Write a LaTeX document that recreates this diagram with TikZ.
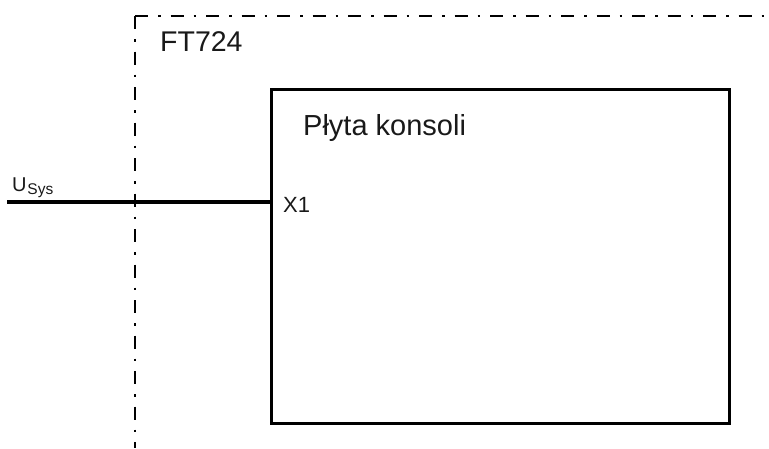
\documentclass[tikz,border=0pt]{standalone}
\usepackage{fontspec}
\setmainfont{Liberation Sans}
\begin{document}
\begin{tikzpicture}[x=1pt,y=-1pt,
  frameline/.style={line width=2.8pt, dash pattern=on 13pt off 10pt on 2.5pt off 10pt},
  boxline/.style={line width=3pt},
  wire/.style={line width=3.4pt},
  lbl/.style={anchor=base west, inner sep=0pt, text=black!90}
]
\useasboundingbox (0,0) rectangle (769,448);
% housing outline (dash-dot)
\coordinate (corner) at (135,16);
\coordinate (frameR) at (769,16);
\coordinate (frameB) at (135,448);
\draw[frameline] (corner) -- (frameR);
\draw[frameline] (corner) -- (frameB);
\node[lbl, font=\fontsize{28.5}{32}\selectfont] (ft) at (160,51) {FT724};
% console board
\draw[boxline] (271,89) rectangle (729,423);
\coordinate (boardL) at (271,202);
\node[lbl, font=\fontsize{29}{33}\selectfont] (board) at (303,135) {Płyta konsoli};
\node[lbl, font=\fontsize{22}{26}\selectfont] (x1) at (283,212) {X1};
% supply wire
\coordinate (wireL) at (7,202);
\draw[wire] (wireL) -- (boardL);
\node[lbl, font=\fontsize{20}{24}\selectfont] (usys) at (12,191) {U\hspace{0.8pt}\raisebox{-3pt}{\fontsize{15.5}{18}\selectfont Sys}};
\end{tikzpicture}
\end{document}
